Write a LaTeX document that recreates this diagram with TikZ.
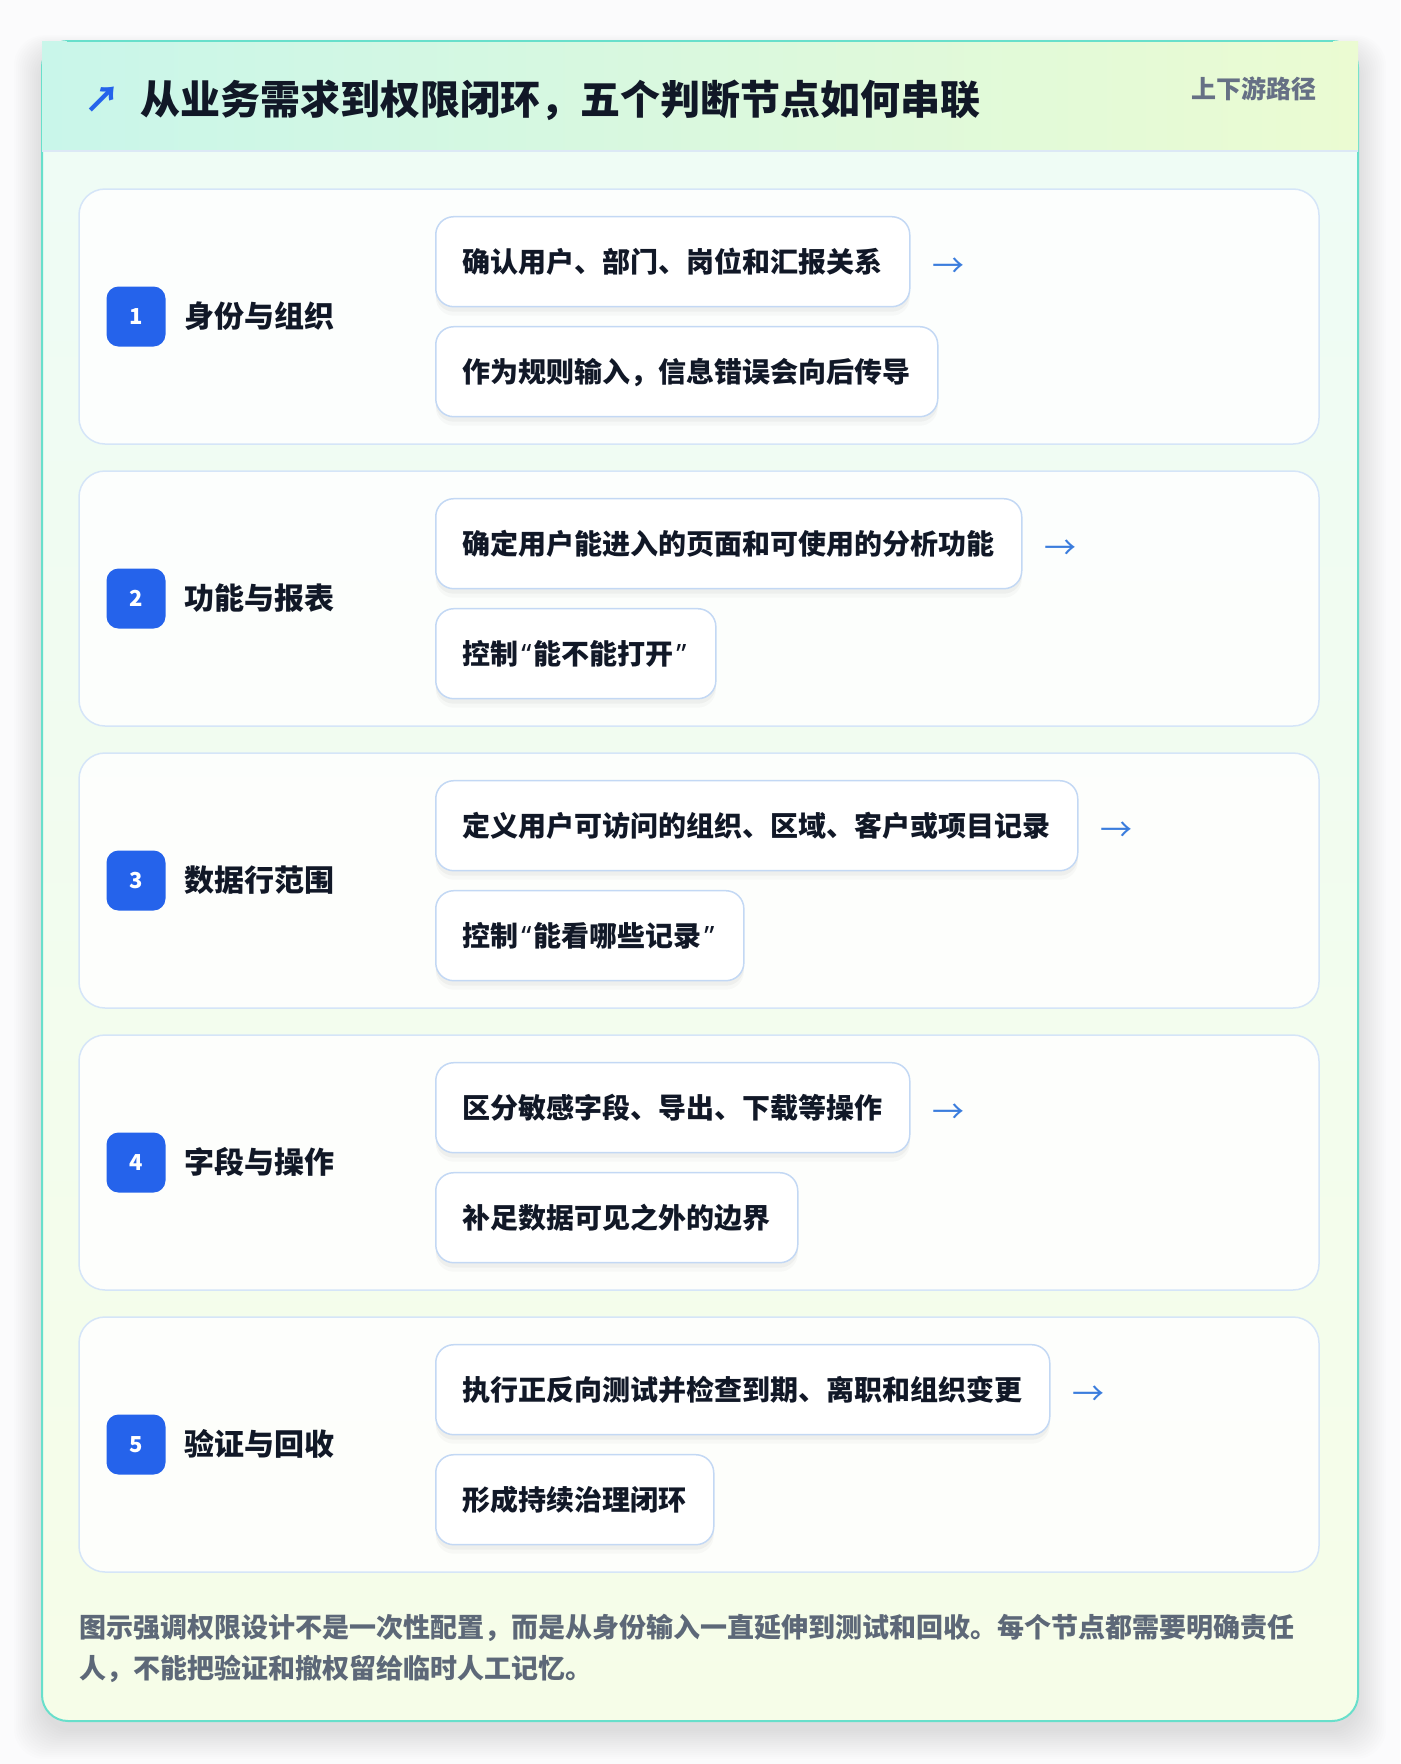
\documentclass[tikz,border=0pt]{standalone}
\usepackage{fontspec}
\setmainfont{Noto Sans CJK SC}
\newfontfamily\quotefont{Noto Sans}
\newcommand{\myopenq}{{\kern2.5pt\quotefont “\kern2.5pt}}
\newcommand{\mycloseq}{{\kern2.5pt\quotefont ”\kern2.5pt}}
\usetikzlibrary{calc}
\definecolor{pagebg}{HTML}{FBFBFC}
\definecolor{cardborder}{HTML}{68DFCB}
\definecolor{headL}{HTML}{C9F6EA}
\definecolor{headR}{HTML}{EBFBD2}
\definecolor{headline}{HTML}{DCE8F5}
\definecolor{bodytop}{HTML}{EEFCF6}
\definecolor{bodybot}{HTML}{F6FDE8}
\definecolor{rowborder}{HTML}{D5E5F8}
\definecolor{subborder}{HTML}{C3D8F4}
\definecolor{badgeblue}{HTML}{2563EB}
\definecolor{arrowblue}{HTML}{3B7DDD}
\definecolor{ink}{HTML}{111827}
\definecolor{tagtext}{HTML}{667085}
\definecolor{foottext}{HTML}{5D6878}
\tikzset{
  rowbox/.style={draw=rowborder, line width=1.5pt, fill=white, fill opacity=.85, rounded corners=26pt},
  badge/.style={fill=badgeblue, rounded corners=12pt, minimum width=59pt, minimum height=60pt,
    inner sep=0pt, text=white, font=\fontsize{22}{22}\selectfont\bfseries, text height=16pt, text depth=0pt},
  rowtitle/.style={anchor=west, inner sep=0pt, text=ink, font=\fontsize{30}{30}\selectfont\bfseries,
    text height=22.8pt, text depth=0pt},
  subbox/.style={draw=subborder, line width=1.5pt, fill=white, rounded corners=18pt, minimum height=90pt,
    inner xsep=27pt, inner ysep=0pt, text height=21.3pt, text depth=0pt, anchor=west, text=ink,
    font=\fontsize{28}{28}\selectfont\bfseries,
    preaction={fill=black, fill opacity=0.025, transform canvas={yshift=-9pt}},
    preaction={fill=black, fill opacity=0.035, transform canvas={yshift=-5pt}}},
  flowarrow/.style={anchor=west, inner sep=0pt, text=arrowblue, font=\fontsize{32}{32}\selectfont,
    text height=24pt, text depth=0pt},
  foot/.style={anchor=base west, inner sep=0pt, text=foottext, font=\fontsize{27}{27}\selectfont\bfseries},
}
\begin{document}
\begin{tikzpicture}[x=1pt,y=-1pt]
\useasboundingbox (0,0) rectangle (1400,1764);
\fill[pagebg] (0,0) rectangle (1400,1764);
% soft card shadow
\foreach \k in {0,...,14}{
  \fill[black, fill opacity=0.007, rounded corners=30pt] (42-\k*2,52-\k*1.2) rectangle (1358+\k*2,1731+\k*2);
}
% card
\draw[cardborder, line width=2pt, rounded corners=26pt, top color=bodytop, bottom color=bodybot]
  (42,41) rectangle (1358,1721);
% header
\shade[left color=headL, right color=headR] (42,41) rectangle (1358,151);
\draw[cardborder, line width=2pt] (67,41) -- (1333,41);
\draw[headline, line width=2pt] (42,151) -- (1358,151);
\node[anchor=center, inner sep=0pt, text=badgeblue, font=\fontsize{36}{36}\selectfont\bfseries,
  text height=27.4pt, text depth=0pt] (icon) at (102,98.5) {↗};
\node[anchor=west, inner sep=0pt, text=ink, font=\fontsize{40}{40}\selectfont\bfseries,
  text height=30.4pt, text depth=0pt] (title) at (140,99) {从业务需求到权限闭环，五个判断节点如何串联};
\node[anchor=east, inner sep=0pt, text=tagtext, font=\fontsize{25}{25}\selectfont\bfseries,
  text height=19pt, text depth=0pt] (tag) at (1317,89) {上下游路径};
% rows
\foreach \i/\t/\a/\b in {
  1/身份与组织/确认用户、部门、岗位和汇报关系/作为规则输入，信息错误会向后传导,
  2/功能与报表/确定用户能进入的页面和可使用的分析功能/控制\myopenq 能不能打开\mycloseq,
  3/数据行范围/定义用户可访问的组织、区域、客户或项目记录/控制\myopenq 能看哪些记录\mycloseq,
  4/字段与操作/区分敏感字段、导出、下载等操作/补足数据可见之外的边界,
  5/验证与回收/执行正反向测试并检查到期、离职和组织变更/形成持续治理闭环}{
  \pgfmathsetmacro\yy{189+282*(\i-1)}
  \draw[rowbox] (79,\yy) rectangle (1319,\yy+255);
  \node[badge] (badge\i) at (136,\yy+127.5) {\i};
  \node[rowtitle] (rt\i) at (184,\yy+127.5) {\t};
  \node[subbox] (sa\i) at (435,\yy+72.7) {\a};
  \node[subbox] (sb\i) at (435,\yy+182.7) {\b};
  \node[flowarrow] (ar\i) at ($(sa\i.east)+(22,4)$) {→};
}
% footer
\node[foot] (foot1) at (79,1637) {图示强调权限设计不是一次性配置，而是从身份输入一直延伸到测试和回收。每个节点都需要明确责任};
\node[foot] (foot2) at (79,1678.5) {人，不能把验证和撤权留给临时人工记忆。};
\end{tikzpicture}
\end{document}
